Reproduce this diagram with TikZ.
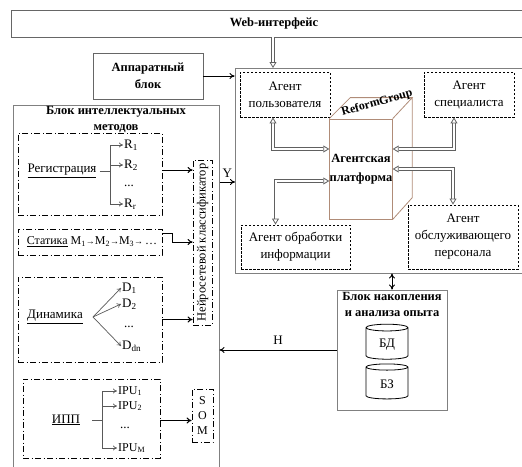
\documentclass[tikz,border=0pt]{standalone}
\usepackage{fontspec}
\setmainfont{Liberation Serif}
\usetikzlibrary{arrows.meta,positioning,calc,shapes.geometric}

\definecolor{cubebrown}{RGB}{176,140,120}
\newcommand{\sarr}{{\fontsize{9}{9}\selectfont →}}

\begin{document}
\begin{tikzpicture}[
		x=1pt, y=-1pt,
		font=\fontsize{13}{17}\selectfont,
		>={To[length=5pt,width=6pt]},
		outerblock/.style={draw=gray, line width=1pt, inner sep=0pt},
		titleblock/.style={draw=gray!80!black, line width=0.8pt, font=\fontsize{12.5}{17}\selectfont\bfseries, align=center},
		boldtitle/.style={font=\fontsize{12.5}{16}\selectfont\bfseries, align=center, inner sep=0pt},
		agentblock/.style={draw, line width=0.9pt, dash pattern=on 2.5pt off 1.5pt, align=center, inner sep=1pt},
		methblock/.style={draw, line width=0.8pt, dash pattern=on 6pt off 2.5pt on 1pt off 2.5pt},
		dbline/.style={draw=gray!75!black, line width=0.8pt, double=white, double distance=2pt},
		dbarrow/.style={dbline, {Triangle[open,length=6pt,width=7pt]}-{Triangle[open,length=6pt,width=7pt]}},
		arrow/.style={line width=1pt,->},
		fork/.style={gray!70!black, line width=0.7pt},
		forkarrow/.style={fork, -{To[length=4pt,width=5pt]}},
		label/.style={anchor=west, inner sep=1pt},
		dbcyl/.style={draw, cylinder, shape border rotate=90, aspect=0.3, minimum width=42, minimum height=35, line width=0.8pt}
	]
	\useasboundingbox (0,0) rectangle (522,466);

	\node[titleblock, minimum width=526, minimum height=27] (web) at (274,23.5) {Web-интерфейс};
	\node[titleblock, minimum width=110, minimum height=46] (hw) at (148,76) {Аппаратный\\блок};

	\node[outerblock, minimum width=302, minimum height=205] (agents) at (386,170.5) {};
	\node[agentblock, minimum width=90, minimum height=45] (user) at (285,94.5) {Агент\\пользователя};
	\node[agentblock, minimum width=90, minimum height=45] (spec) at (469,94.5) {Агент\\специалиста};
	\node[agentblock, minimum width=109, minimum height=44] (proc) at (295.5,247) {Агент обработки\\информации};
	\node[agentblock, minimum width=110, minimum height=64] (staff) at (463,237) {Агент\\обслуживающего\\персонала};

	\node[draw=cubebrown, line width=0.8pt, minimum width=62, minimum height=100, font=\fontsize{12.5}{19}\selectfont\bfseries, align=center, inner sep=0pt] (platform) at (361,169) {Агентская\\платформа};
	\draw[cubebrown, line width=0.8pt] (platform.north west) -- ++(21,-21) -- ++(62,0) coordinate (cubeback) -- (platform.north east) (cubeback) -- ++(0,100) -- (platform.south east);
	\node[boldtitle, font=\fontsize{12}{14}\selectfont\bfseries, rotate=16] (brand) at (377,103) {ReformGroup};

	\coordinate (webin) at (273,68);
	\draw[dbline, -{Triangle[open,length=6pt,width=7pt]}] (web.south -| webin) -- (webin);
	\draw[arrow] (hw.east) -- (hw.east -| agents.west);
	\draw[dbarrow] ([xshift=-12pt]user.south) |- ([yshift=20pt]platform.west);
	\draw[dbarrow] ([xshift=-15pt]spec.south) |- ([yshift=20pt]platform.east);
	\draw[dbarrow] ([yshift=-12pt]platform.west) -| ([xshift=-20pt]proc.north);
	\draw[dbarrow] (platform.east) -| ([xshift=-10pt]staff.north);

	\node[outerblock, minimum width=110, minimum height=120] (accum) at (392,350) {};
	\node[boldtitle, anchor=north] (accumtitle) at (392,292) {Блок накопления\\и анализа опыта};
	\node[dbcyl] (bd) at (387,344.5) {БД};
	\node[dbcyl] (bz) at (387,384) {БЗ};
	\draw[arrow, <->] (agents.south -| accum) -- (accum.north);

	\node[outerblock, minimum width=206, minimum height=380] (intel) at (116,295) {};
	\node[boldtitle, anchor=north] (inteltitle) at (116,106) {Блок интеллектуальных\\методов};
	\draw[arrow] (accum.west) -- (accum.west -| intel.east) node[midway, above=2pt] {H};

	\node[methblock, minimum width=19, minimum height=165] (neuro) at (202.5,242.5) {};
	\node[rotate=90, inner sep=0pt, font=\fontsize{12.5}{14}\selectfont] (neurotext) at (neuro.center) {Нейросетевой классификатор};
	\coordinate (yin) at (235,182);
	\draw[arrow] (intel.east |- yin) -- (yin) node[midway, above=1pt] {Y};

	\node[methblock, minimum width=144, minimum height=82] (regbox) at (90,174) {};
	\node (reg) at (62,171) {\underline{Регистрация}};
	\node[label] (r1) at (123,145) {R\textsubscript{1}};
	\node[label] (r2) at (123,165) {R\textsubscript{2}};
	\node[label] (rdots) at (123,186) {...};
	\node[label] (rr) at (123,204) {R\textsubscript{r}};
	\coordinate (regfork) at (110,171);
	\draw[fork] (reg.east) -- (regfork);
	\draw[fork] (regfork |- r1) -- (regfork |- rr);
	\foreach \r in {r1,r2,rr}
		\draw[forkarrow] (regfork |- \r) -- (\r.west);
	\draw[arrow] ([yshift=4pt]regbox.east) -- ([yshift=4pt]regbox.east -| neuro.west);

	\node[methblock, minimum width=144, minimum height=26] (statbox) at (90,242) {};
	\node[font=\fontsize{12}{14}\selectfont] (stat) at (92,242) {\underline{Статика} M\textsubscript{1}\sarr M\textsubscript{2}\sarr M\textsubscript{3}\sarr\,…};
	\draw[arrow] ([yshift=9pt]statbox.east) -- ++(10,0) |- (statbox.east -| neuro.west);

	\node[methblock, minimum width=144, minimum height=85] (dynbox) at (90,319.5) {};
	\node (dyn) at (55,317) {\underline{Динамика}};
	\coordinate (dynfork) at (93,317);
	\node[label] (d1) at (121,288) {D\textsubscript{1}};
	\node[label] (d2) at (121,304) {D\textsubscript{2}};
	\node[label] (ddots) at (123,327) {...};
	\node[label] (ddn) at (121,346) {D\textsubscript{dn}};
	\foreach \d in {d1,d2,ddn}
		\draw[forkarrow] (dynfork) -- (\d.west);
	\draw[arrow] (dynbox.east) -- (dynbox.east -| neuro.west);

	\node[methblock, minimum width=137, minimum height=79] (ippbox) at (91.5,418.5) {};
	\node (ipp) at (66,420) {\underline{ИПП}};
	\coordinate (ippstub) at (92,420);
	\coordinate (ippfork) at (102,420);
	\node[label, font=\fontsize{12}{14}\selectfont] (ipu1) at (117,391) {IPU\textsubscript{1}};
	\node[label, font=\fontsize{12}{14}\selectfont] (ipu2) at (117,406) {IPU\textsubscript{2}};
	\node[label] (ipudots) at (119,428) {...};
	\node[label, font=\fontsize{12}{14}\selectfont] (ipum) at (117,448) {IPU\textsubscript{M}};
	\draw[fork] (ippstub) -- (ippfork);
	\draw[fork] (ippfork |- ipu1) -- (ippfork |- ipum);
	\foreach \i in {ipu1,ipu2,ipum}
		\draw[forkarrow] (ippfork |- \i) -- (\i.west);
	\node[methblock, minimum width=21, minimum height=53, align=center, font=\fontsize{12}{15}\selectfont, inner sep=0pt] (som) at (202.5,415.5) {S\\O\\M};
	\draw[arrow] ([yshift=-2pt]ippbox.east) -- ([yshift=-2pt]ippbox.east -| som.west);
\end{tikzpicture}
\end{document}
